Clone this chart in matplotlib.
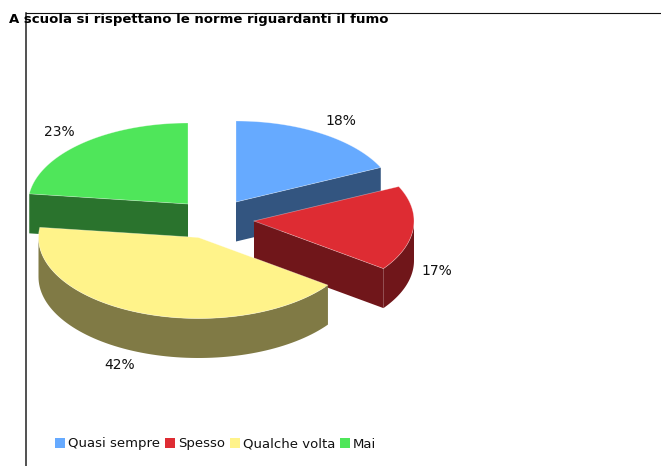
import matplotlib
matplotlib.use("Agg")
import matplotlib.pyplot as plt
from matplotlib.patches import Patch
import numpy as np

title = "A scuola si rispettano le norme riguardanti il fumo"
labels = ["Quasi sempre", "Spesso", "Qualche volta", "Mai"]
values = [18, 17, 42, 23]
colors = ["#66AAFF", "#DE2C33", "#FFF38A", "#4FE65A"]
side_colors = ["#335580", "#70161A", "#807A45", "#2A732D"]

# pie layout, in pixels
cx, cy = 212, 221
rx, ry = 160, 81
depth = 39.5
explode = [(24, -19), (42, 0), (-13.5, 16.5), (-24, -17)]
label_pos = [(341, 120.5), (437, 270.5), (119.5, 364.5), (59.5, 131.5)]
draw_order = [0, 3, 1, 2]

fig = plt.figure(figsize=(6.61, 4.66), dpi=100)
ax = fig.add_axes([26 / 661, 0, 635 / 661, 453 / 466])
ax.set_xlim(26, 661)
ax.set_ylim(466, 13)
ax.set_xticks([])
ax.set_yticks([])
for s in ["right", "bottom"]:
    ax.spines[s].set_visible(False)
ax.spines["left"].set_color("#222222")
ax.spines["left"].set_linewidth(1.1)
ax.spines["top"].set_color("#111111")
ax.spines["top"].set_linewidth(0.8)

edges = np.cumsum([0] + values) / sum(values) * 2 * np.pi


def rim(a, b, ox, oy, shift=0):
    t = np.linspace(a, b, 80)
    return ox + rx * np.sin(t), oy - ry * np.cos(t) + shift


for i in draw_order:
    a, b = edges[i], edges[i + 1]
    ox, oy = cx + explode[i][0], cy + explode[i][1]

    # cut face at the end of the slice, only where it looks to the front
    if np.sin(b) > 0:
        ex, ey = rim(b, b, ox, oy)
        ax.fill([ox, ex[0], ex[0], ox], [oy, ey[0], ey[0] + depth, oy + depth],
                color=side_colors[i], lw=0)
    if np.sin(a) < 0:
        ex, ey = rim(a, a, ox, oy)
        ax.fill([ox, ex[0], ex[0], ox], [oy, ey[0], ey[0] + depth, oy + depth],
                color=side_colors[i], lw=0)

    # outer wall, front half of the ellipse
    w0, w1 = max(a, np.pi / 2), min(b, 3 * np.pi / 2)
    if w1 > w0:
        x1, y1 = rim(w0, w1, ox, oy)
        ax.fill(np.r_[x1, x1[::-1]], np.r_[y1, y1[::-1] + depth],
                color=side_colors[i], lw=0)

    x, y = rim(a, b, ox, oy)
    ax.fill(np.r_[ox, x], np.r_[oy, y], color=colors[i], lw=0)
    ax.plot(np.r_[ox, x, ox], np.r_[oy, y, oy], color="white", lw=0.5, alpha=0.4)
    ax.text(label_pos[i][0], label_pos[i][1], f"{values[i]}%", fontsize=10,
            ha="center", va="center", color="#111111")

fig.text(9 / 661, 1 - 20 / 466, title, fontsize=9.5, fontweight="bold",
         va="center", ha="left", color="#000000", family="DejaVu Sans")

handles = [Patch(color=c, lw=0) for c in colors]
fig.legend(handles, labels, ncol=4, frameon=False, fontsize=9.5,
           loc="center left", bbox_to_anchor=(43 / 661, 1 - 444 / 466),
           handlelength=0.76, handleheight=0.76, handletextpad=0.25,
           columnspacing=0.34, labelcolor="#111111")

fig.savefig("out.png", dpi=100)
